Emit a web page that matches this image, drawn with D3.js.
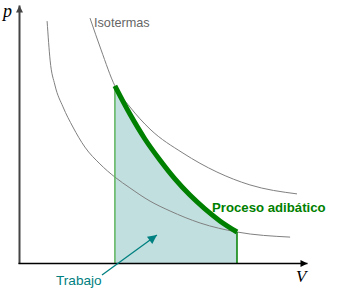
<!DOCTYPE html>
<html>
<head>
<meta charset="utf-8">
<script src="https://cdn.jsdelivr.net/npm/d3@7"></script>
<style>
  body { margin: 0; background: #fff; }
  svg { display: block; }
</style>
</head>
<body>
<div id="chart_div"></div>
<script>
// isotherm curves (V, p)
const isoLowV = [0.92, 1.02, 1.18, 1.45, 1.78, 2.18, 2.68, 3.18, 3.68, 4.35, 5.02, 6.02, 7.25, 9.02];
const isoLowP = [8.08, 6.78, 5.95, 5.22, 4.55, 3.88, 3.32, 2.88, 2.52, 2.08, 1.75, 1.35, 1.05, 0.88];

const isoHighV = [2.35, 2.72, 3.18, 3.68, 4.35, 5.45, 6.58, 7.68, 9.25];
const isoHighP = [8.18, 7.12, 5.92, 5.22, 4.48, 3.68, 3.05, 2.62, 2.32];

// adiabatic process
const adiaV = [3.18, 3.68, 4.18, 4.68, 5.18, 5.68, 6.18, 6.68, 7.25];
const adiaP = [5.92, 4.98, 4.15, 3.45, 2.82, 2.28, 1.82, 1.42, 1.05];

const width = 341;
const height = 293;

const svg = d3.select("#chart_div")
    .append("svg")
    .attr("width", width)
    .attr("height", height);

const x = d3.scaleLinear()
    .domain([0, 9.6])
    .range([19.5, 307.5]);

const y = d3.scaleLinear()
    .domain([0, 8.6])
    .range([263.5, 5.5]);

const zip = (vs, ps) => vs.map((v, i) => [v, ps[i]]);
const iso1 = zip(isoLowV, isoLowP);
const iso2 = zip(isoHighV, isoHighP);
const adia = zip(adiaV, adiaP);

const line = d3.line()
    .x(d => x(d[0]))
    .y(d => y(d[1]))
    .curve(d3.curveMonotoneX);

const area = d3.area()
    .x(d => x(d[0]))
    .y0(y(0))
    .y1(d => y(d[1]))
    .curve(d3.curveMonotoneX);

const defs = svg.append("defs");
const marker = (id, color, w, h) => defs.append("marker")
    .attr("id", id)
    .attr("viewBox", "0 0 10 10")
    .attr("refX", 10).attr("refY", 5)
    .attr("markerUnits", "userSpaceOnUse")
    .attr("markerWidth", w).attr("markerHeight", h)
    .attr("orient", "auto")
    .append("path")
    .attr("d", "M0,0 L10,5 L0,10 z")
    .attr("fill", color);
marker("arrBlack", "#000", 9, 7);
marker("arrGray", "#444", 9, 7);
marker("arrTeal", "#008080", 11, 9);

// work area
svg.append("path")
    .datum(adia)
    .attr("d", area)
    .attr("fill", "#c2dfdf");

// isotherms
svg.selectAll(".iso")
    .data([iso1, iso2])
    .enter()
    .append("path")
    .attr("class", "iso")
    .attr("d", line)
    .attr("fill", "none")
    .attr("stroke", "#808080")
    .attr("stroke-width", 1);

// vertical edges of the area
const v0 = adia[0], v1 = adia[adia.length - 1];
svg.append("line")
    .attr("x1", x(v0[0])).attr("x2", x(v0[0]))
    .attr("y1", y(0)).attr("y2", y(v0[1]))
    .attr("stroke", "#5cb35c")
    .attr("stroke-width", 1.5);
svg.append("line")
    .attr("x1", x(v1[0])).attr("x2", x(v1[0]))
    .attr("y1", y(0)).attr("y2", y(v1[1]))
    .attr("stroke", "#008000")
    .attr("stroke-width", 1.5);

// adiabatic curve
svg.append("path")
    .datum(adia)
    .attr("d", line)
    .attr("fill", "none")
    .attr("stroke", "#008000")
    .attr("stroke-width", 5);

// axes
svg.append("line")
    .attr("x1", x(0)).attr("x2", x(0))
    .attr("y1", y(0) + 0.5).attr("y2", y(8.6))
    .attr("stroke", "#444")
    .attr("stroke-width", 2)
    .attr("marker-end", "url(#arrGray)");
svg.append("line")
    .attr("x1", x(0) - 1).attr("x2", x(9.6))
    .attr("y1", y(0)).attr("y2", y(0))
    .attr("stroke", "#000")
    .attr("stroke-width", 1.5)
    .attr("marker-end", "url(#arrBlack)");

svg.append("text")
    .attr("x", 3).attr("y", 17)
    .attr("font-family", "Liberation Serif, serif")
    .attr("font-style", "italic")
    .attr("font-size", 18)
    .attr("fill", "#000")
    .text("p");
svg.append("text")
    .attr("x", 296).attr("y", 282)
    .attr("font-family", "Liberation Serif, serif")
    .attr("font-style", "italic")
    .attr("font-size", 17)
    .attr("fill", "#000")
    .text("V");

// labels
svg.append("text")
    .attr("x", 94).attr("y", 27)
    .attr("font-family", "Liberation Sans, Arial, sans-serif")
    .attr("font-size", 12.7)
    .attr("fill", "#666")
    .text("Isotermas");

svg.append("text")
    .attr("x", 212).attr("y", 212)
    .attr("font-family", "Liberation Sans, Arial, sans-serif")
    .attr("font-weight", "bold")
    .attr("font-size", 13.2)
    .attr("fill", "#008000")
    .text("Proceso adibático");

svg.append("text")
    .attr("x", 56).attr("y", 285)
    .attr("font-family", "Liberation Sans, Arial, sans-serif")
    .attr("font-size", 13.6)
    .attr("fill", "#008080")
    .text("Trabajo");

svg.append("line")
    .attr("x1", 102).attr("y1", 275)
    .attr("x2", x(4.58)).attr("y2", y(0.95))
    .attr("stroke", "#008080")
    .attr("stroke-width", 1.3)
    .attr("marker-end", "url(#arrTeal)");
</script>
</body>
</html>
